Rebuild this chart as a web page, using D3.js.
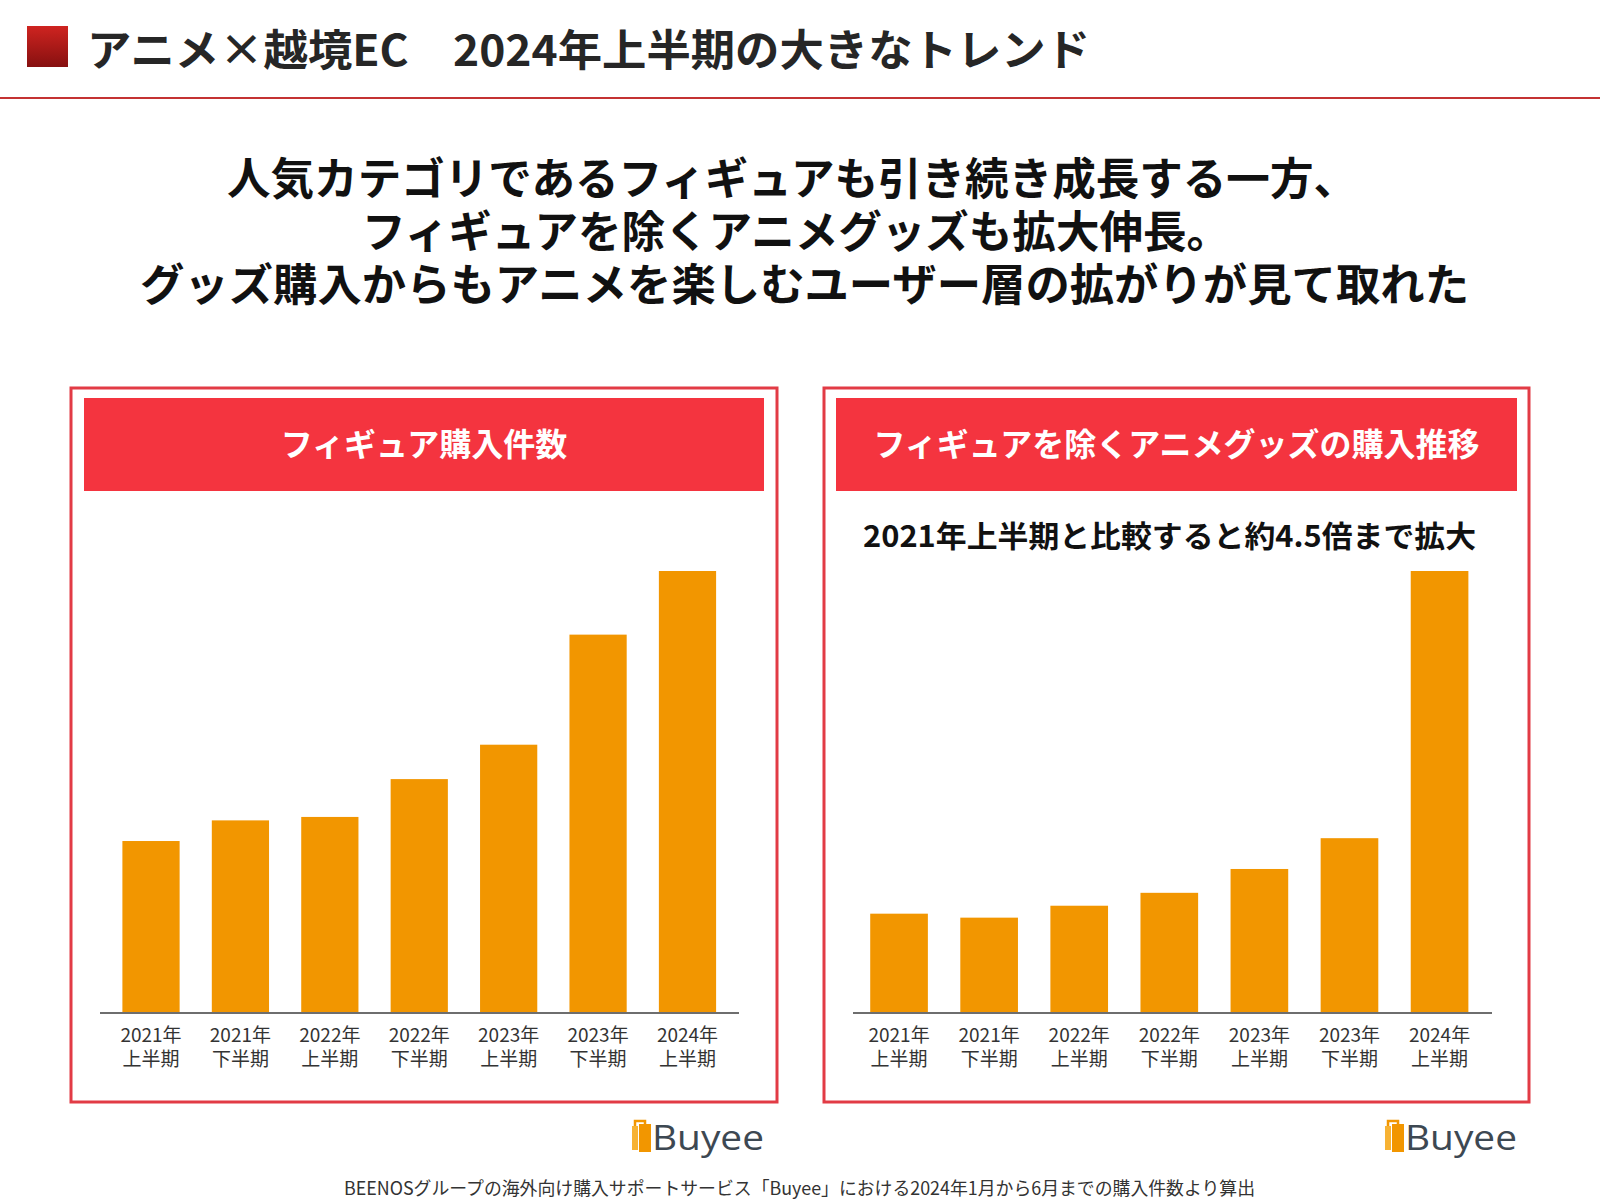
<!DOCTYPE html>
<html><head><meta charset="utf-8">
<script src="https://cdn.jsdelivr.net/npm/d3@7"></script>
<style>body{margin:0;background:#fff}</style>
</head><body>
<svg id="c" width="1600" height="1200" xmlns="http://www.w3.org/2000/svg"></svg>
<script>
// ---- data ----
const periodYears = ["2021年","2021年","2022年","2022年","2023年","2023年","2024年"];
const periodHalves = ["上半期","下半期","上半期","下半期","上半期","下半期","上半期"];
const periodKeys = ["2021H1","2021H2","2022H1","2022H2","2023H1","2023H2","2024H1"];
// index values, 2021年上半期 = 100
const figureValues = [100, 112, 114, 136, 156, 220, 257];
const goodsValues = [100, 96, 108, 121, 145, 176, 445];
const pageTitle = "アニメ×越境EC　2024年上半期の大きなトレンド";
const headlineLines = [
  "人気カテゴリであるフィギュアも引き続き成長する一方、",
  "フィギュアを除くアニメグッズも拡大伸長。",
  "グッズ購入からもアニメを楽しむユーザー層の拡がりが見て取れた"
];
const panelTitles = ["フィギュア購入件数", "フィギュアを除くアニメグッズの購入推移"];
const panelNote = "2021年上半期と比較すると約4.5倍まで拡大";
const footnote = "BEENOSグループの海外向け購入サポートサービス「Buyee」における2024年1月から6月までの購入件数より算出";

// ---- drawing ----
const svg = d3.select("#c");
const JP = "'Noto Sans CJK JP','Noto Sans',sans-serif";

const defs = svg.append("defs");
const grad = defs.append("linearGradient").attr("id","sq").attr("x1",0).attr("y1",0).attr("x2",0).attr("y2",1);
grad.append("stop").attr("offset","0%").attr("stop-color","#cf2420");
grad.append("stop").attr("offset","100%").attr("stop-color","#861010");

svg.append("rect").attr("x",27).attr("y",26).attr("width",41).attr("height",41).attr("fill","url(#sq)");
function fitText(sel, w){
  const n = sel.node().getComputedTextLength();
  if (n > 0) sel.attr("textLength", w).attr("lengthAdjust","spacingAndGlyphs");
  return sel;
}
fitText(svg.append("text").attr("x",87).attr("y",47).attr("dominant-baseline","central")
  .attr("font-family",JP).attr("font-weight",700).attr("font-size",43).attr("fill","#262626")
  .text(pageTitle), 1003);
svg.append("line").attr("x1",0).attr("x2",1600).attr("y1",98).attr("y2",98)
  .attr("stroke","#c43232").attr("stroke-width",2);

const headPos = [{x:227,y:176,w:1130},{x:362,y:229,w:868},{x:140,y:282,w:1329}];
headlineLines.forEach((t,i)=>{
  fitText(svg.append("text").attr("x",headPos[i].x).attr("y",headPos[i].y).attr("dominant-baseline","central")
    .attr("font-family",JP).attr("font-weight",700).attr("font-size",44).attr("fill","#111")
    .text(t), headPos[i].w);
});

function drawPanel(cfg){
  const g = svg.append("g");
  g.append("rect").attr("x",cfg.bx).attr("y",388).attr("width",cfg.bw).attr("height",714)
    .attr("fill","none").attr("stroke","#e23b45").attr("stroke-width",3);
  g.append("rect").attr("x",cfg.hx).attr("y",398).attr("width",cfg.hw).attr("height",93).attr("fill","#f4343f");
  g.append("text").attr("x",cfg.hx+cfg.hw/2).attr("y",442).attr("text-anchor","middle").attr("dominant-baseline","central")
    .attr("font-family",JP).attr("font-weight",700).attr("font-size",32).attr("fill","#fff").text(cfg.title);
  if (cfg.note) {
    fitText(g.append("text").attr("x",863).attr("y",534).attr("dominant-baseline","central")
      .attr("font-family",JP).attr("font-weight",700).attr("font-size",30).attr("fill","#111").text(cfg.note), 613);
  }
  const x = d3.scaleBand().domain(periodKeys).range(cfg.range).paddingInner(0.36).paddingOuter(0.18);
  const y = d3.scaleLinear().domain([0, d3.max(cfg.values)]).range([1013, 571]);
  g.selectAll("rect.bar").data(cfg.values).join("rect").attr("class","bar")
    .attr("x",(d,i)=>x(periodKeys[i])).attr("width",x.bandwidth())
    .attr("y",d=>y(d)).attr("height",d=>y(0)-y(d)).attr("fill","#f29600");
  g.append("line").attr("x1",cfg.ax[0]).attr("x2",cfg.ax[1]).attr("y1",1013).attr("y2",1013)
    .attr("stroke","#6e6e6e").attr("stroke-width",2);
  const axis = d3.axisBottom(x).tickSize(0).tickPadding(0).tickFormat(()=>"");
  const ag = g.append("g").attr("transform","translate(0,1013)").call(axis);
  ag.select(".domain").remove();
  ag.selectAll(".tick text").remove();
  ag.selectAll(".tick").each(function(d,i){
    const t = d3.select(this).append("text").attr("text-anchor","middle")
      .attr("font-family",JP).attr("font-size",19).attr("fill","#333");
    t.append("tspan").attr("x",0).attr("y",20).attr("dominant-baseline","central").text(periodYears[i]);
    t.append("tspan").attr("x",0).attr("y",44).attr("dominant-baseline","central").text(periodHalves[i]);
  });
  // Buyee logo
  const lg = g.append("g").attr("transform",`translate(${cfg.logo},1119)`);
  lg.append("rect").attr("x",1).attr("y",7).attr("width",6).attr("height",24).attr("fill","#f7b233");
  lg.append("rect").attr("x",8).attr("y",5).attr("width",12).attr("height",28).attr("fill","#f29600");
  lg.append("path").attr("d","M4 7 L4 2 L14 2 L14 5").attr("fill","none").attr("stroke","#f29600").attr("stroke-width",2.5);
  fitText(lg.append("text").attr("x",21).attr("y",18).attr("dominant-baseline","central")
    .attr("font-family","'Open Sans',sans-serif").attr("font-weight",500).attr("font-size",34).attr("fill","#3d4852").text("Buyee"), 112);
}

drawPanel({bx:71,bw:706,hx:84,hw:680,title:panelTitles[0],values:figureValues,range:[106.3,732.2],ax:[100,739],logo:631});
drawPanel({bx:824,bw:705,hx:836,hw:681,title:panelTitles[1],note:panelNote,values:goodsValues,range:[854,1484.6],ax:[853,1492],logo:1384});

fitText(svg.append("text").attr("x",344).attr("y",1187).attr("dominant-baseline","central")
  .attr("font-family",JP).attr("font-size",18).attr("fill","#333").text(footnote), 911);
</script>
</body></html>
